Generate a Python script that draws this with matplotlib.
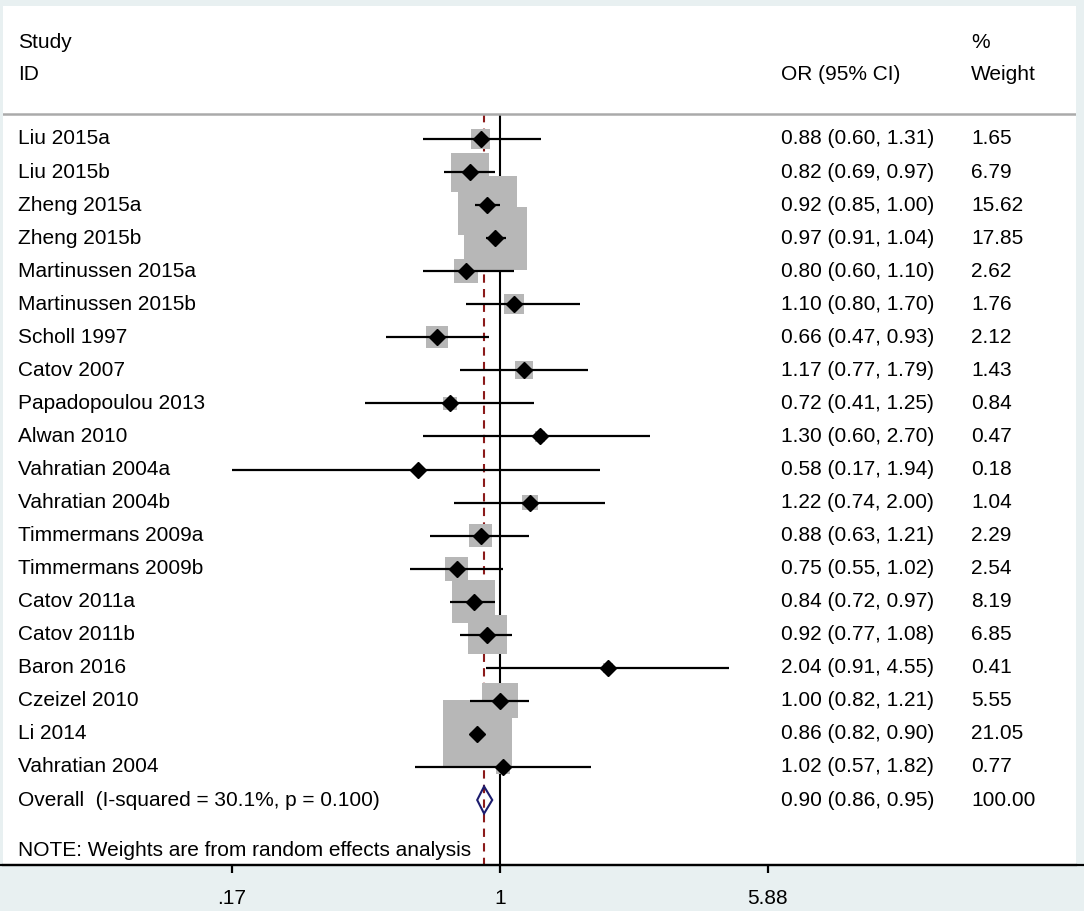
import matplotlib
matplotlib.use("Agg")
import matplotlib.pyplot as plt
import numpy as np

plt.rcParams['font.family'] = ['Liberation Sans', 'DejaVu Sans']

# Study data
studies = ["Liu 2015a", "Liu 2015b", "Zheng 2015a", "Zheng 2015b",
           "Martinussen 2015a", "Martinussen 2015b", "Scholl 1997",
           "Catov 2007", "Papadopoulou 2013", "Alwan 2010",
           "Vahratian 2004a", "Vahratian 2004b", "Timmermans 2009a",
           "Timmermans 2009b", "Catov 2011a", "Catov 2011b", "Baron 2016",
           "Czeizel 2010", "Li 2014", "Vahratian 2004"]
odds = [0.88, 0.82, 0.92, 0.97, 0.80, 1.10, 0.66, 1.17, 0.72, 1.30,
        0.58, 1.22, 0.88, 0.75, 0.84, 0.92, 2.04, 1.00, 0.86, 1.02]
ci_low = [0.60, 0.69, 0.85, 0.91, 0.60, 0.80, 0.47, 0.77, 0.41, 0.60,
          0.17, 0.74, 0.63, 0.55, 0.72, 0.77, 0.91, 0.82, 0.82, 0.57]
ci_high = [1.31, 0.97, 1.00, 1.04, 1.10, 1.70, 0.93, 1.79, 1.25, 2.70,
           1.94, 2.00, 1.21, 1.02, 0.97, 1.08, 4.55, 1.21, 0.90, 1.82]
weights = [1.65, 6.79, 15.62, 17.85, 2.62, 1.76, 2.12, 1.43, 0.84, 0.47,
           0.18, 1.04, 2.29, 2.54, 8.19, 6.85, 0.41, 5.55, 21.05, 0.77]

overall_label = "Overall  (I-squared = 30.1%, p = 0.100)"
overall_or = 0.90
overall_low = 0.86
overall_high = 0.95
overall_weight = 100.00

tick_values = [0.17, 1, 5.88]
tick_labels = [".17", "1", "5.88"]

bg = "#e8f0f1"
W, H = 1084, 911
fig = plt.figure(figsize=(W / 100, H / 100), dpi=100, facecolor=bg)
# white plotting region
ax = fig.add_axes([3 / W, (H - 865) / H, (1076 - 3) / W, (865 - 6) / H])
ax.set_facecolor("white")

px_per_ln = 151.2
row_px = 33.05
ax.set_xlim((3 - 500) / px_per_ln, (1076 - 500) / px_per_ln)
ax.set_ylim((865 - 139) / row_px, (6 - 139) / row_px)

n = len(studies)
rows = np.arange(n)
lx = np.log(odds)
header_line_y = (114 - 139) / row_px
bottom_y = (865 - 139) / row_px

# reference lines
ax.vlines(0, header_line_y, bottom_y, color="black", lw=1.5, zorder=1)
ax.vlines(np.log(overall_or), header_line_y, bottom_y, color="#8b1a1a",
          lw=1.5, linestyles=(0, (4, 3)), zorder=1)

# weight boxes
ax.scatter(lx, rows, s=np.array(weights) * 116, marker="s",
           color="#b7b7b7", linewidths=0, zorder=2)

# confidence intervals and point estimates
ax.hlines(rows, np.log(ci_low), np.log(ci_high), color="black", lw=1.6, zorder=3)
ax.plot(lx, rows, "D", color="black", markersize=7.8, zorder=4)

# overall diamond
oy = n
dx = [np.log(overall_low), np.log(overall_or), np.log(overall_high),
      np.log(overall_or), np.log(overall_low)]
dy = [oy, oy - 0.41, oy, oy + 0.41, oy]
ax.fill(dx, dy, facecolor="none", edgecolor="#1c1c6e", lw=1.5, zorder=4)

# header line
ax.axhline(header_line_y, color="#aaaaaa", lw=1.8, zorder=1)

fs = 15
x_name = (18 - 500) / px_per_ln
x_or = (781 - 500) / px_per_ln
x_w = (971 - 500) / px_per_ln

ax.text(x_name, (42 - 139) / row_px, "Study", fontsize=fs, va="center")
ax.text(x_name, (75 - 139) / row_px, "ID", fontsize=fs, va="center")
ax.text(x_or, (75 - 139) / row_px, "OR (95% CI)", fontsize=fs, va="center")
ax.text(x_w, (42 - 139) / row_px, "%", fontsize=fs, va="center")
ax.text(x_w, (75 - 139) / row_px, "Weight", fontsize=fs, va="center")

for i in range(n):
    ax.text(x_name, i, studies[i], fontsize=fs, va="center")
    ax.text(x_or, i, f"{odds[i]:.2f} ({ci_low[i]:.2f}, {ci_high[i]:.2f})",
            fontsize=fs, va="center")
    ax.text(x_w, i, f"{weights[i]:.2f}", fontsize=fs, va="center")

ax.text(x_name, oy, overall_label, fontsize=fs, va="center")
ax.text(x_or, oy, f"{overall_or:.2f} ({overall_low:.2f}, {overall_high:.2f})",
        fontsize=fs, va="center")
ax.text(x_w, oy, f"{overall_weight:.2f}", fontsize=fs, va="center")

ax.text(x_name, (851 - 139) / row_px, "NOTE: Weights are from random effects analysis",
        fontsize=fs, va="center")

# axis
for side in ["top", "left", "right"]:
    ax.spines[side].set_visible(False)
ax.spines["bottom"].set_linewidth(1.6)
ax.set_yticks([])
ax.set_xticks(np.log(tick_values))
ax.set_xticklabels(tick_labels, fontsize=fs)
ax.tick_params(axis="x", length=6, width=1.6, pad=11)

# bottom line runs across the whole picture
fig.add_artist(plt.Line2D([0, 1], [(H - 865) / H] * 2, color="black", lw=1.6))

fig.savefig("out.png", dpi=100, facecolor=bg)
